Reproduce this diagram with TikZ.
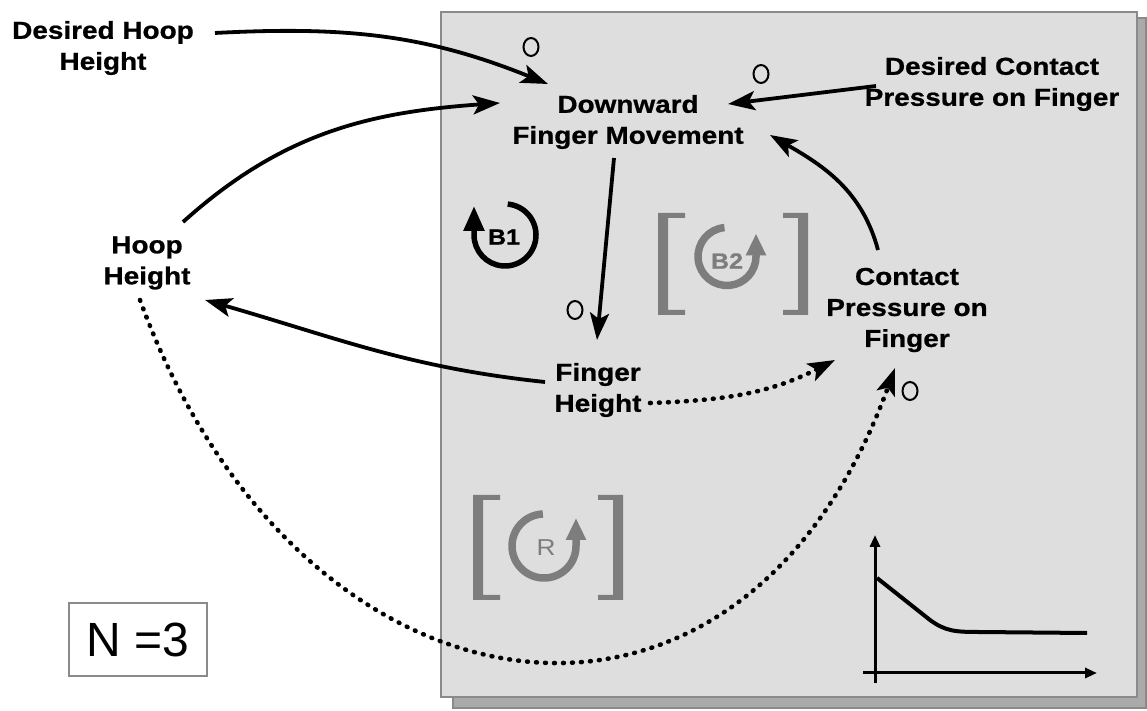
\documentclass[tikz,border=0pt]{standalone}
\usepackage{fontspec}
\setmainfont{Liberation Sans}[FakeStretch=1.14, BoldFeatures={FakeBold=0.8}]
\newfontfamily\plainfont{Liberation Sans}
\usetikzlibrary{arrows.meta,calc}
\definecolor{panelfill}{HTML}{DEDEDE}
\definecolor{panelline}{HTML}{8A8A8A}
\definecolor{shadowfill}{HTML}{AAAAAA}
\definecolor{symgray}{HTML}{7D7D7D}
\newcommand\mybrackL[4]{% color, xleft, ytop, ybottom
  \fill[#1] (#2,#3) -- ++(27,0) -- ++(0,-5) -- ++(-17,0) -- (#2+10,#4+5) -- ++(17,0) -- ++(0,-5) -- (#2,#4) -- cycle;}
\newcommand\mybrackR[4]{% color, xright, ytop, ybottom
  \fill[#1] (#2,#3) -- ++(-25,0) -- ++(0,-5) -- ++(15,0) -- (#2-10,#4+5) -- ++(-15,0) -- ++(0,-5) -- (#2,#4) -- cycle;}
\begin{document}
\begin{tikzpicture}[x=1pt,y=1pt,
  lbl/.style={font=\bfseries\fontsize{24.5}{31}\selectfont, align=center, inner sep=0pt},
  arr/.style={line width=3.8pt, -{Stealth[length=27pt,width=19pt,inset=6pt]}},
  dotarr/.style={arr, line cap=round, dash pattern=on 0.8pt off 8.2pt, line width=4.6pt},
  pol/.style={line width=2pt},
  loopblack/.style={line width=5.5pt, -{Triangle[length=25pt,width=20pt]}},
  loopgray/.style={symgray, line width=7.5pt, -{Triangle[length=22pt,width=19pt]}}]
\useasboundingbox (0,0) rectangle (1147,711);
\fill[white] (0,0) rectangle (1147,711);
% panel
\fill[shadowfill] (453,3) rectangle (1146,693);
\draw[panelline, line width=1.5pt] (453,3) rectangle (1146,693);
\fill[panelfill] (441,14) rectangle (1137,699);
\draw[panelline, line width=2.5pt] (441,14) rectangle (1137,699);

% nodes
\node[lbl] (dhh) at (103,663) {Desired Hoop\\Height};
\node[lbl] (dfm) at (628,589) {Downward\\Finger Movement};
\node[lbl] (dcp) at (992,627) {Desired Contact\\Pressure on Finger};
\node[lbl] (hh) at (147,448) {Hoop\\Height};
\node[lbl] (cp) at (907,401) {Contact\\Pressure on\\Finger};
\node[lbl] (fh) at (598,321) {Finger\\Height};
\node[draw=panelline, line width=2pt, fill=white, minimum width=138pt, minimum height=73pt, inner sep=0pt,
      font=\plainfont\fontsize{48}{52}\selectfont] (nbox) at (138,71) {N =3};

% connectors
\draw[arr] ($(dhh)+(112,15)$) to[out=3,in=158] ($(dfm)+(-80,38)$);
\draw[arr] ($(hh)+(36,41)$) to[out=42,in=184] ($(dfm)+(-128,19)$);
\draw[arr] ($(dcp)+(-116,-2)$) -- ($(dfm)+(100,18)$);
\draw[arr] ($(dfm)+(-14,-36)$) -- ($(fh)+(-1,50)$);
\draw[arr] ($(cp)+(-29,60)$) to[out=105,in=-30] ($(dfm)+(142,-13)$);
\draw[arr] ($(fh)+(-53,8)$) to[out=174,in=-16] ($(hh)+(58,-37)$);
\draw[dotarr] ($(fh)+(52,-13)$) to[out=2,in=207] ($(cp)+(-72,-50)$);
\draw[dotarr] ($(hh)+(-7,-37)$) to[out=-70,in=-110,looseness=1.55] ($(cp)+(-12,-58)$);

% polarity marks
\draw[pol] (531,664) ellipse [x radius=7.5pt, y radius=9pt];
\draw[pol] (761,637) ellipse [x radius=7.5pt, y radius=9pt];
\draw[pol] (575,401) ellipse [x radius=7.5pt, y radius=9pt];
\draw[pol] (910,320) ellipse [x radius=7.5pt, y radius=9pt];

% loop B1
\draw[loopblack] (505,476) ++(85:31) arc[start angle=85, end angle=-180, radius=31] -- ++(0,29);
\node[font=\bfseries\fontsize{22}{22}\selectfont] (b1) at (504,474) {B1};

% loop B2
\mybrackL{symgray}{658}{498}{396}
\mybrackR{symgray}{808}{498}{396}
\draw[loopgray] (727,454.5) ++(95:29) arc[start angle=95, end angle=360, radius=29] -- ++(0,23);
\node[font=\bfseries\fontsize{22}{22}\selectfont, text=symgray] (b2) at (727,450) {B2};

% loop R
\mybrackL{symgray}{473}{216}{111}
\mybrackR{symgray}{623}{216}{111}
\draw[loopgray] (544,165) ++(92:32) arc[start angle=92, end angle=360, radius=32] -- ++(0,28);
\node[font=\fontsize{23}{23}\selectfont, text=symgray] (r) at (546,163) {R};

% small graph
\draw[line width=3pt, -{Triangle[length=12pt,width=10pt]}] (875,28) -- (875,176);
\draw[line width=3pt, -{Triangle[length=12pt,width=10pt]}] (863,38) -- (1097,38);
\draw[line width=4pt, line join=round] (877,133) -- (930,91) .. controls (945,80) and (955,79) .. (978,79) -- (1087,78);
\end{tikzpicture}
\end{document}
